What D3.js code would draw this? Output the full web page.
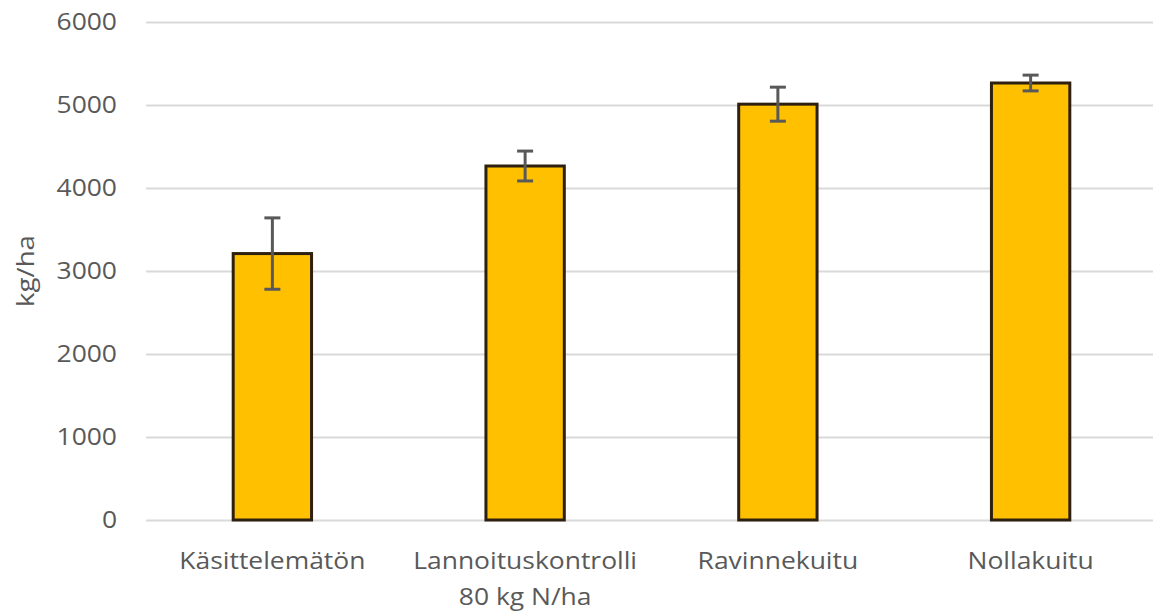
<!DOCTYPE html>
<html>
<head>
<meta charset="utf-8">
<script src="https://cdn.jsdelivr.net/npm/d3@7"></script>
<style>
  body { margin: 0; background: #fff; }
  text { font-family: "Open Sans", sans-serif; fill: #595959; }
</style>
</head>
<body>
<svg id="chart" width="1153" height="612"></svg>
<script>
const categories = [['Käsittelemätön'], ['Lannoituskontrolli', '80 kg N/ha'], ['Ravinnekuitu'], ['Nollakuitu']];
const yields = [3210, 4265, 5010, 5265];
const errors = [430, 180, 205, 95];
const yTicks = [0, 1000, 2000, 3000, 4000, 5000, 6000];

const data = categories.map((c, i) => ({ name: c.join(' '), lines: c, value: yields[i], err: errors[i] }));

const svg = d3.select('#chart');
const margin = { top: 22, left: 146, right: -4, bottom: 92 };
const width = +svg.attr('width');
const height = +svg.attr('height');
const stretch = 1.15; // reference text is a bit wider than it is tall

const x = d3.scaleBand()
  .domain(data.map(d => d.name))
  .range([margin.left, width - margin.right])
  .paddingInner(0.69)
  .paddingOuter(0.345);

const y = d3.scaleLinear()
  .domain([0, 6000])
  .range([height - margin.bottom, margin.top]);

// gridlines + y labels
const yAxis = svg.append('g')
  .attr('transform', `translate(${margin.left},0)`)
  .call(d3.axisLeft(y).tickValues(yTicks).tickSize(-(width - margin.left)).tickFormat(d3.format('d')));
yAxis.select('.domain').remove();
yAxis.selectAll('line').attr('stroke', '#d9d9d9').attr('stroke-width', 2);
yAxis.selectAll('text')
  .attr('x', 0)
  .attr('transform', `translate(-29,0) scale(${stretch},1)`)
  .style('font-size', '23px')
  .attr('fill', '#595959');

// x labels
const xAxis = svg.append('g')
  .attr('transform', `translate(0,${y(0)})`)
  .call(d3.axisBottom(x).tickSize(0).tickFormat(''));
xAxis.select('.domain').remove();
xAxis.selectAll('.tick').each(function(d) {
  const item = data.find(e => e.name === d);
  const t = d3.select(this).append('text')
    .attr('text-anchor', 'middle')
    .attr('transform', `scale(${stretch},1)`)
    .style('font-size', '23px');
  item.lines.forEach((l, i) => {
    t.append('tspan').attr('x', 0).attr('y', 49 + i * 36).text(l);
  });
});

svg.selectAll('.bar')
  .data(data)
  .enter()
  .append('rect')
  .attr('x', d => x(d.name))
  .attr('y', d => y(d.value))
  .attr('width', x.bandwidth())
  .attr('height', d => y(0) - y(d.value))
  .attr('fill', '#ffc000')
  .attr('stroke', '#2e2010')
  .attr('stroke-width', 3);

const err = svg.selectAll('.err')
  .data(data)
  .enter()
  .append('g')
  .attr('stroke', '#595959')
  .attr('stroke-width', 3);
err.append('line')
  .attr('x1', d => x(d.name) + x.bandwidth() / 2)
  .attr('x2', d => x(d.name) + x.bandwidth() / 2)
  .attr('y1', d => y(d.value + d.err))
  .attr('y2', d => y(d.value - d.err));
[1, -1].forEach(s => {
  err.append('line')
    .attr('x1', d => x(d.name) + x.bandwidth() / 2 - 8)
    .attr('x2', d => x(d.name) + x.bandwidth() / 2 + 8)
    .attr('y1', d => y(d.value + s * d.err))
    .attr('y2', d => y(d.value + s * d.err));
});

svg.append('text')
  .attr('transform', `translate(34,${(y(0) + y(6000)) / 2}) rotate(-90) scale(${stretch},1)`)
  .attr('text-anchor', 'middle')
  .style('font-size', '24px')
  .text('kg/ha');
</script>
</body>
</html>
